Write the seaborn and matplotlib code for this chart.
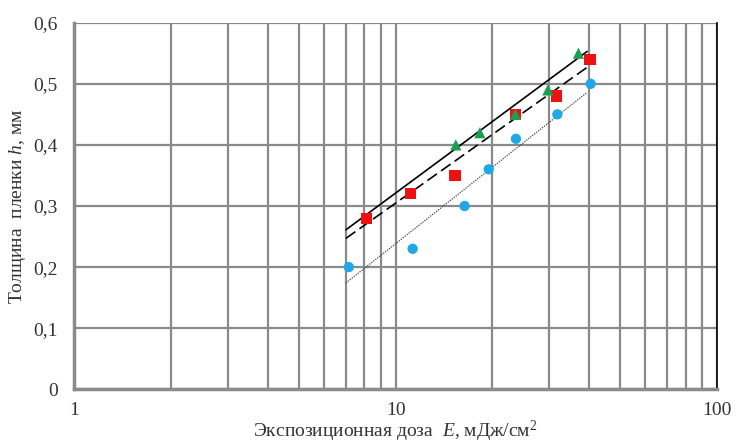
import matplotlib
matplotlib.use("Agg")
import matplotlib.pyplot as plt
import matplotlib.ticker as ticker
import numpy as np
import pandas as pd
import seaborn as sns

# %% DATOS
doza_circ = [7.15, 11.3, 16.4, 19.5, 23.7, 31.9, 40.5]
h_circ = [0.20, 0.23, 0.30, 0.36, 0.41, 0.45, 0.50]

doza_kv = [8.1, 11.1, 15.3, 23.6, 31.7, 40.3]
h_kv = [0.28, 0.32, 0.35, 0.45, 0.48, 0.54]

doza_tri = [15.4, 18.3, 23.6, 29.8, 37.1]
h_tri = [0.40, 0.42, 0.45, 0.49, 0.55]

# lineas de tendencia (extremos)
tr_x = [7.0, 39.5]
tr_solida = [0.261, 0.553]
tr_guion = [0.247, 0.527]
tr_punto = [0.174, 0.486]

yticks = [0, 0.1, 0.2, 0.3, 0.4, 0.5, 0.6]
ytick_lab = ["0", "0,1", "0,2", "0,3", "0,4", "0,5", "0,6"]

# %% GRAFICO
sns.set_style("white")
plt.rcParams['font.family'] = ['Liberation Serif', 'DejaVu Serif']
plt.rcParams['mathtext.fontset'] = 'custom'
plt.rcParams['mathtext.rm'] = 'Liberation Serif'
plt.rcParams['mathtext.it'] = 'Liberation Serif:italic'

fig = plt.figure(figsize=(7.42, 4.45), dpi=100)
ax = fig.add_axes([0.1004, 0.1251, 0.8655, 0.8239])
ax.set_xscale("log")

gris = "#8a8a8a"
ax.grid(which="both", axis="x", color=gris, lw=1.6)
ax.grid(which="major", axis="y", color=gris, lw=1.6)
ax.set_axisbelow(True)

sns.lineplot(x=tr_x, y=tr_solida, color="black", lw=1.2, ax=ax)
sns.lineplot(x=tr_x, y=tr_guion, color="black", lw=1.2, ax=ax,
             linestyle=(0, (7, 3)))
sns.lineplot(x=tr_x, y=tr_punto, color="#444444", lw=0.9, ax=ax,
             linestyle=(0, (1, 1)))

sns.scatterplot(x=doza_circ, y=h_circ, marker="o", s=55, color="#1ea8e8",
                edgecolor="none", ax=ax, zorder=3)
sns.scatterplot(x=doza_kv, y=h_kv, marker="s", s=65, color="#ee1111",
                edgecolor="none", ax=ax, zorder=3)
sns.scatterplot(x=doza_tri, y=h_tri, marker="^", s=65, color="#1a9e50",
                edgecolor="none", ax=ax, zorder=3)

ax.set_xlim(1, 100)
ax.set_ylim(0, 0.6)
ax.xaxis.set_major_formatter(ticker.FuncFormatter(lambda v, p: f"{v:g}"))
ax.xaxis.set_minor_formatter(ticker.NullFormatter())
ax.set_yticks(yticks)
ax.set_yticklabels(ytick_lab)
ax.tick_params(axis="both", which="major", direction="out", length=4, width=1,
               color=gris, labelsize=14, labelcolor="#333333", pad=8)
ax.tick_params(axis="x", which="major", pad=5)
ax.tick_params(axis="x", which="minor", length=0)

for lado in ["left", "bottom"]:
    ax.spines[lado].set_color(gris)
    ax.spines[lado].set_linewidth(2.5)
ax.spines["top"].set_visible(False)
ax.spines["right"].set_color("black")
ax.spines["right"].set_linewidth(1.2)

ax.set_xlabel("Экспозиционная доза  $\\mathit{E}$, мДж/см$^2$", fontsize=14,
              color="#333333", labelpad=0)
ax.set_ylabel("Толщина  пленки $\\mathit{h}$, мм", fontsize=14,
              color="#333333", labelpad=4)

fig.savefig("out.png", dpi=100)
